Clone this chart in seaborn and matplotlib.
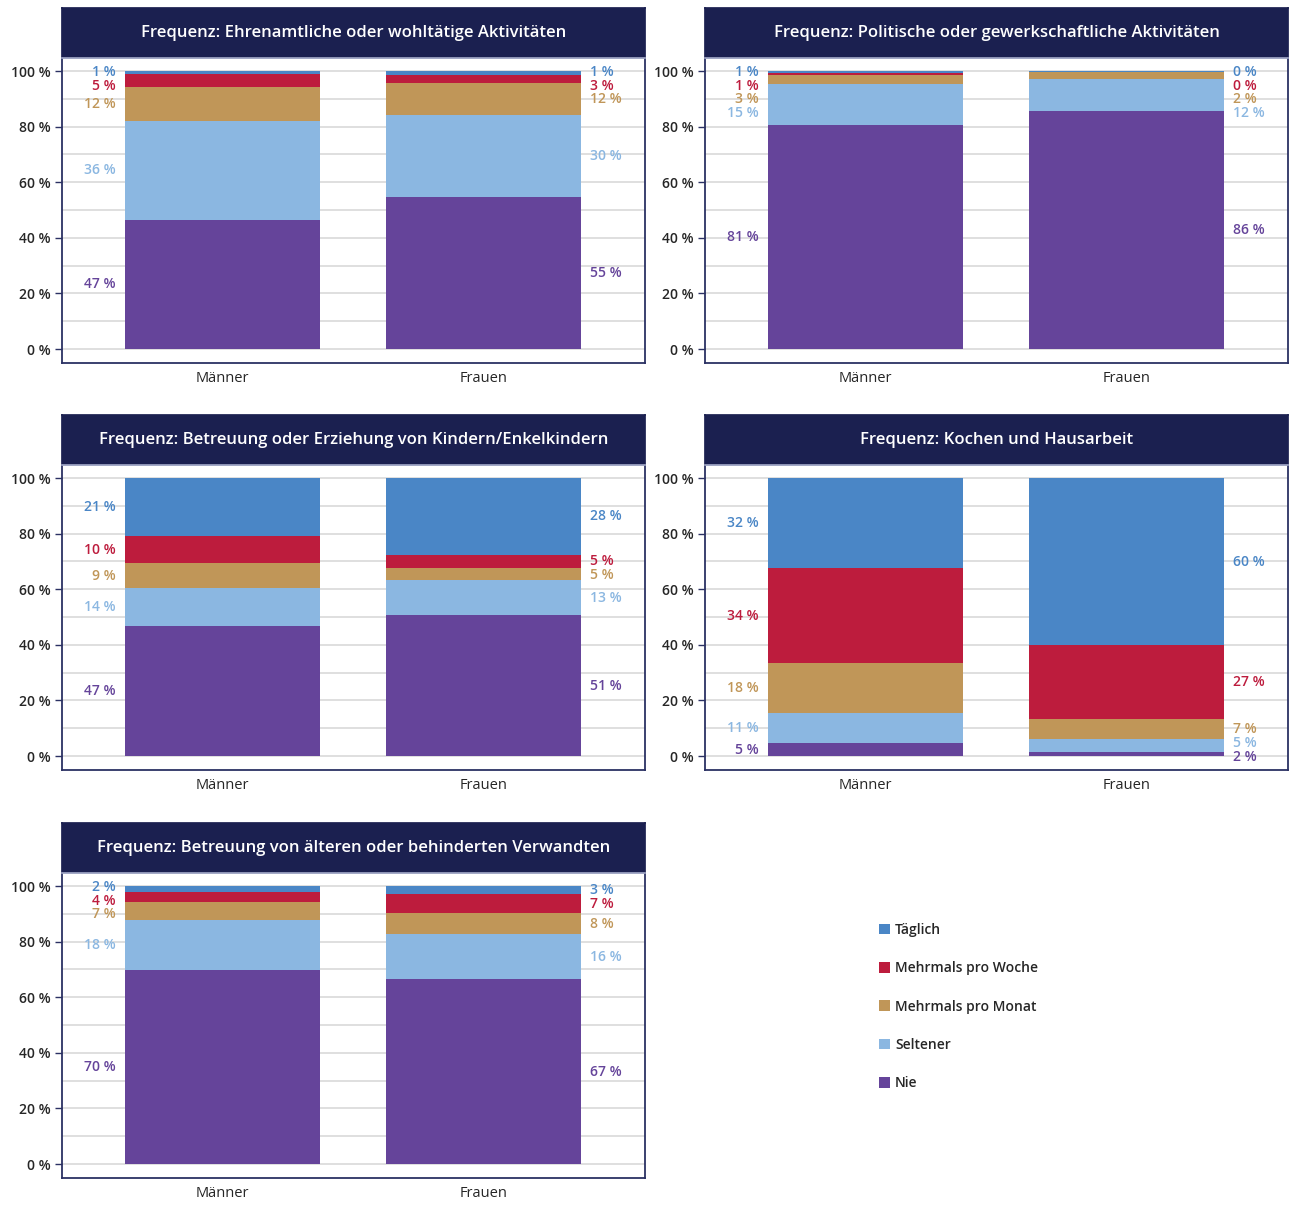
import matplotlib
matplotlib.use("Agg")
import matplotlib.pyplot as plt
from matplotlib.patches import Patch
from matplotlib.ticker import MultipleLocator
import pandas as pd
import seaborn as sns

groups = ["Männer", "Frauen"]
series = ["Täglich", "Mehrmals pro Woche", "Mehrmals pro Monat", "Seltener", "Nie"]
colors = ["#4a86c6", "#bd1c3d", "#c09658", "#8bb7e1", "#65449a"]

titles = [
    "Frequenz: Ehrenamtliche oder wohltätige Aktivitäten",
    "Frequenz: Politische oder gewerkschaftliche Aktivitäten",
    "Frequenz: Betreuung oder Erziehung von Kindern/Enkelkindern",
    "Frequenz: Kochen und Hausarbeit",
    "Frequenz: Betreuung von älteren oder behinderten Verwandten",
]

# shares in percent; one row per entry of `series`, columns follow `groups`
ehrenamt = [[1.0, 1.3], [4.6, 2.9], [12.2, 11.6], [35.6, 29.6], [46.6, 54.6]]
politik = [[0.7, 0.2], [0.8, 0.3], [3.3, 2.3], [14.6, 11.6], [80.6, 85.6]]
kinder = [[20.9, 27.6], [9.7, 4.6], [9.0, 4.6], [13.6, 12.6], [46.8, 50.6]]
haushalt = [[32.4, 60.1], [34.1, 26.6], [18.0, 7.1], [10.8, 4.6], [4.7, 1.6]]
pflege = [[2.1, 2.9], [3.6, 6.8], [6.6, 7.6], [18.0, 16.1], [69.7, 66.6]]
panels = [ehrenamt, politik, kinder, haushalt, pflege]

sns.set_theme(style="white")
plt.rcParams["font.family"] = ["Open Sans", "DejaVu Sans"]

NAVY = "#1b2050"
FRAME = "#2b3163"
GRID = "#d6d6d6"
TEXT = "#262626"

W, H = 1292, 1205
fig = plt.figure(figsize=(W / 100, H / 100), dpi=100)

BAR_W = 0.747
col_x = [62, 705]
row_y = [8, 415, 823]          # top of each title bar (px)
PANEL_W = 583
HEAD_H = 50
PLOT_H = 305


def px_box(x, y, w, h):
    return [x / W, 1 - (y + h) / H, w / W, h / H]


def spread(centers, gap, top):
    """Push label positions apart (ordered top to bottom) so they do not overlap."""
    pos = list(centers)
    for _ in range(500):
        moved = False
        for i in range(len(pos) - 1):
            d = pos[i] - pos[i + 1]
            if d < gap - 1e-9:
                s = (gap - d) / 2
                pos[i] += s
                pos[i + 1] -= s
                moved = True
        if pos[0] > top + 1e-9:
            pos[0] = top
            moved = True
        if not moved:
            break
    return pos


for k, (title, data) in enumerate(zip(titles, panels)):
    r, c = divmod(k, 2)
    x0, y0 = col_x[c], row_y[r]

    head = fig.add_axes(px_box(x0, y0, PANEL_W, HEAD_H))
    head.set_facecolor(NAVY)
    head.set_xticks([])
    head.set_yticks([])
    for sp in head.spines.values():
        sp.set_color(NAVY)
    head.text(0.5, 0.5, title, color="white", fontsize=12, fontweight="semibold",
              ha="center", va="center", transform=head.transAxes)

    ax = fig.add_axes(px_box(x0, y0 + HEAD_H, PANEL_W, PLOT_H))

    # stacked bars: draw cumulative totals from the top segment downwards
    for i, (name, color) in enumerate(zip(series, colors)):
        tops = [sum(data[j][g] for j in range(i, len(series))) for g in range(len(groups))]
        df = pd.DataFrame({"Gruppe": groups, "Anteil": tops})
        sns.barplot(data=df, x="Gruppe", y="Anteil", order=groups, color=color,
                    saturation=1, width=BAR_W, linewidth=0, errorbar=None, ax=ax)

    # value labels beside the bars
    for g in range(len(groups)):
        centers = []
        for i in range(len(series)):
            bottom = sum(data[j][g] for j in range(i + 1, len(series)))
            centers.append(bottom + data[i][g] / 2)
        ys = spread(centers, 5.0, 99.8)
        xl = -BAR_W / 2 - 0.035 if g == 0 else 1 + BAR_W / 2 + 0.035
        ha = "right" if g == 0 else "left"
        for i in range(len(series)):
            ax.text(xl, ys[i], f"{round(data[i][g]):d} %", color=colors[i],
                    fontsize=10, fontweight="semibold", ha=ha, va="center")

    ax.set_xlim(-0.615, 1.619)
    ax.yaxis.set_minor_locator(MultipleLocator(10))
    ticks = [0, 20, 40, 60, 80, 100]
    ax.set_yticks(ticks)
    ax.set_yticklabels([f"{t} %" for t in ticks])
    ax.set_ylim(-5.0, 104.7)
    ax.grid(True, axis="y", which="both", color=GRID, linewidth=1.1)
    ax.set_axisbelow(True)
    ax.tick_params(axis="y", which="major", left=True, length=5, width=1,
                   color=FRAME, labelsize=10, labelcolor=TEXT, pad=3)
    ax.tick_params(axis="y", which="minor", left=False, length=0)
    ax.tick_params(axis="x", bottom=False, length=0, labelsize=10.5,
                   labelcolor=TEXT, pad=5.5)
    for lab in ax.get_yticklabels():
        lab.set_fontweight("semibold")
    for lab in ax.get_xticklabels():
        lab.set_fontweight("medium")
    ax.set_xlabel("")
    ax.set_ylabel("")
    for sp in ax.spines.values():
        sp.set_color(FRAME)
        sp.set_linewidth(1.3)
    ax.spines["top"].set_color("#9aa0c0")

handles = [Patch(facecolor=col, edgecolor="none", label=name) for name, col in zip(series, colors)]
fig.legend(handles=handles, loc="upper left", bbox_to_anchor=(879 / W, 1 - 923 / H),
           frameon=False, labelcolor=TEXT, handlelength=0.8, handleheight=0.8,
           handletextpad=0.35, labelspacing=1.75, borderpad=0, borderaxespad=0,
           prop={"weight": "semibold", "size": 10})

fig.savefig("out.png", dpi=100, facecolor="white")
